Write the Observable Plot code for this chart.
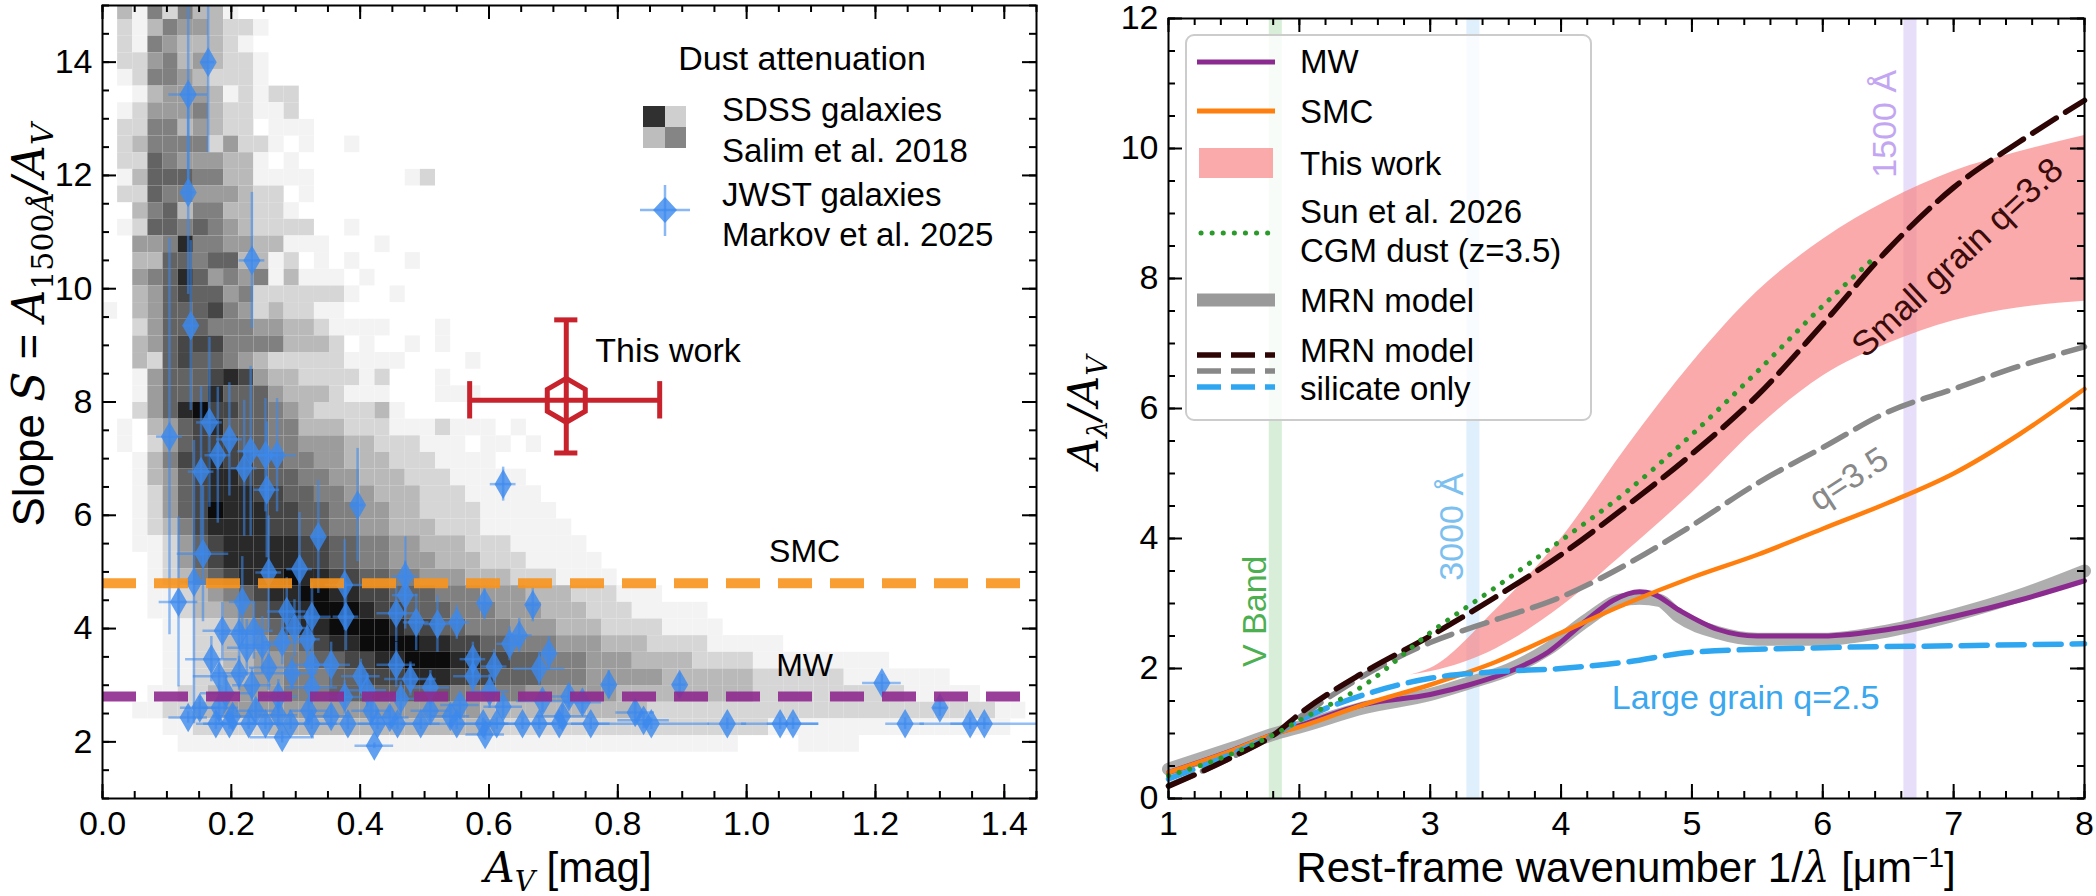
<!DOCTYPE html>
<html><head><meta charset="utf-8">
<script src="https://cdn.jsdelivr.net/npm/d3@7"></script>
<script src="https://cdn.jsdelivr.net/npm/@observablehq/plot@0.6"></script>
<style>
body{margin:0;background:#fff;}
#wrap{position:relative;width:2096px;height:896px;font-family:"Liberation Sans",Arial,sans-serif;}
#left,#right{position:absolute;top:0;}
#left{left:0;} #right{left:1048px;}
#ov{position:absolute;left:0;top:0;pointer-events:none;}
</style></head><body><div id="wrap"><div id="left"></div><div id="right"></div><svg id="ov" width="2096" height="896"></svg></div>
<script>
// ---------- LEFT PANEL DATA ----------
const sdssX0 = 0, sdssDX = 0.0235, sdssYTop = 15.047, sdssDY = 0.294;
const sdssRows = [
"0315253310",
"02135443221",
"0215433321",
"02245343221",
"01255432221",
"0013444312122",
"0124445322112",
"02255343220111",
"02355552422101001",
"0226544433101",
"0136665533111100000012",
"02265544432201",
"0035635533221",
"01266565432222001",
"00445855443311100010",
"0033665663312010100010",
"004568645451311101",
"00346766452222221001",
"1034666754232211",
"00246665554433211110001",
"00346777555533320100101",
"0032676654322222111100001",
"00146667874332222120001",
"0014666866643332111000111",
"00246897766543222231",
"0103467866655333222111211101",
"01024677766554443322211101101",
"00135778776655443332221111",
"0013467887766554433322211111",
"00124678887766554433322211111",
"001246798887766554433222211111",
"0012357888877665544333222111111",
"00112467888887766554433322211111",
"000124678888877665544433322211111",
"0001235678889887766554443332221111",
"0001123456788998877666555444333222111",
"0001123345678899987766655544433322211111",
"00001122345678899998776655544433322221111",
"000011223345567889999887766555444333222211111",
"0000112233445566778899988776655544433332222111111111",
"00001122334455566777888777666555444443333332222221111111",
"0001122334445556666666655555444444333333333222222222211111",
"0011223344444444444444444333333333332222222222222222222222211",
"000011222223333333333333332222222222222222221111111111111111",
"00000111111111111111111111111111111111111100001111"
];
const jwstAv = [0.164,0.133,0.133,0.232,0.137,0.104,0.166,0.197,0.179,0.153,0.22,0.23,0.253,0.271,0.255,0.396,0.622,0.335,0.156,0.142,0.118,0.258,0.306,0.376,0.47,0.47,0.217,0.593,0.668,0.456,0.55,0.52,0.487,0.286,0.325,0.378,0.298,0.186,0.212,0.235,0.248,0.224,0.318,0.279,0.647,0.632,0.693,0.169,0.355,0.325,0.456,0.575,0.608,0.678,0.258,0.181,0.212,0.294,0.401,0.478,0.575,0.786,0.896,1.21,1.30,0.232,0.325,0.509,0.601,0.411,0.192,0.273,0.376,0.463,0.683,0.745,0.724,0.555,0.622,0.151,0.181,0.238,0.32,0.417,0.509,0.827,0.133,0.202,0.273,0.355,0.446,0.54,0.714,0.84,0.176,0.197,0.227,0.253,0.292,0.325,0.381,0.427,0.458,0.494,0.55,0.591,0.612,0.652,0.678,0.709,0.758,0.852,0.97,1.052,1.072,1.246,1.347,1.369,0.279,0.422,0.594];
const jwstS = [14.0,13.43,11.7,10.5,9.35,7.39,7.64,7.34,7.06,6.77,6.83,7.13,7.06,7.06,6.45,6.18,6.55,5.62,5.32,4.82,4.47,4.99,5.05,4.77,4.92,4.59,4.47,4.45,4.42,4.27,4.11,4.08,4.11,4.3,4.21,4.21,4.01,3.96,3.91,3.96,3.71,3.66,3.81,3.76,3.88,3.73,3.56,3.46,3.36,3.36,3.36,3.46,3.33,3.29,3.31,3.16,3.21,3.21,3.16,3.11,3.16,3.01,3.01,3.04,2.6,3.0,2.96,2.96,2.89,2.91,2.86,2.8,2.79,2.76,2.72,2.7,2.8,2.65,2.62,2.6,2.6,2.55,2.55,2.55,2.55,2.52,2.43,2.45,2.47,2.45,2.43,2.45,2.45,2.38,2.32,2.32,2.32,2.32,2.32,2.32,2.32,2.32,2.32,2.32,2.32,2.32,2.32,2.32,2.32,2.32,2.32,2.32,2.32,2.32,2.32,2.32,2.32,2.32,2.08,1.93,2.13];
const jwstAvErr = [0.01,0.03,0.01,0.02,0.01,0.02,0.02,0.02,0.02,0.02,0.02,0.02,0.02,0.03,0.02,0.01,0.02,0.01,0.04,0.02,0.03,0.02,0.02,0.03,0.02,0.02,0.02,0.01,0.01,0.03,0.02,0.02,0.02,0.03,0.03,0.02,0.02,0.03,0.03,0.03,0.03,0.03,0.02,0.03,0.02,0.02,0.01,0.04,0.03,0.03,0.03,0.02,0.02,0.04,0.03,0.04,0.04,0.04,0.03,0.04,0.03,0.01,0.01,0.03,0.01,0.03,0.04,0.03,0.03,0.03,0.04,0.03,0.03,0.03,0.04,0.03,0.03,0.03,0.03,0.03,0.03,0.03,0.03,0.03,0.03,0.03,0.03,0.03,0.03,0.03,0.03,0.03,0.04,0.04,0.03,0.04,0.05,0.03,0.03,0.04,0.05,0.03,0.04,0.03,0.05,0.04,0.03,0.05,0.03,0.04,0.03,0.09,0.03,0.06,0.04,0.03,0.03,0.1,0.05,0.03,0.03];
const jwstSErr = [1.6,1.6,1.8,1.2,1.5,3.5,1.5,1.0,1.2,1.5,1.2,1.5,1.0,1.0,1.2,1.0,0.3,1.0,1.2,2.5,1.5,1.0,1.0,0.8,0.7,0.6,0.8,0.3,0.3,0.5,0.3,0.5,0.5,0.6,0.6,0.6,0.5,0.5,0.5,0.5,0.5,0.5,0.5,0.4,0.3,0.3,0.3,0.4,0.4,0.4,0.4,0.3,0.3,0.3,0.4,0.3,0.3,0.3,0.3,0.3,0.3,0.25,0.2,0.15,0.15,0.3,0.3,0.3,0.3,0.3,0.3,0.3,0.3,0.3,0.2,0.2,0.2,0.2,0.2,0.2,0.2,0.2,0.2,0.2,0.2,0.2,0.1,0.2,0.2,0.2,0.2,0.2,0.2,0.15,0.1,0.1,0.1,0.1,0.1,0.1,0.1,0.1,0.1,0.1,0.1,0.1,0.1,0.1,0.1,0.1,0.1,0.1,0.1,0.1,0.1,0.1,0.1,0.1,0.1,0.05,0.1];
const thisWork = {av:0.72, avLo:0.57, avHi:0.865, s:8.03, sLo:7.1, sHi:9.45};
const smcSlope = 4.8, mwSlope = 2.8;

// ---------- RIGHT PANEL DATA ----------
const mwX = [1,1.5,1.82,2,2.5,3,3.3,3.6,3.9,4.2,4.4,4.6,4.7,4.9,5.2,5.5,6,6.5,7,7.5,8];
const mwY = [0.4,0.75,1.0,1.12,1.45,1.6,1.75,1.95,2.25,2.75,3.05,3.18,3.15,2.9,2.6,2.5,2.5,2.6,2.8,3.05,3.35];
const mrnX = [1,1.5,1.82,2,2.5,3,3.3,3.6,3.9,4.2,4.45,4.6,4.75,4.9,5.2,5.5,6,6.5,7,7.5,8];
const mrnY = [0.45,0.78,1.0,1.1,1.4,1.6,1.78,1.98,2.3,2.75,3.05,3.08,3.05,2.8,2.55,2.45,2.45,2.58,2.82,3.12,3.5];
const smcX = [1,1.5,1.82,2,2.5,3,3.5,4,4.5,5,5.5,6,6.5,7,7.5,8];
const smcY = [0.4,0.75,1.0,1.1,1.45,1.75,2.1,2.55,3.0,3.4,3.75,4.15,4.55,5.0,5.6,6.3];
const bandX = [2.85,3,3.5,4,4.5,5,5.5,6,6.5,7,7.5,8];
const bandLo = [1.9,1.95,2.3,2.95,3.8,4.7,5.7,6.5,7.0,7.35,7.55,7.65];
const bandHi = [1.9,2.0,2.9,4.0,5.4,6.7,7.8,8.6,9.2,9.65,9.95,10.2];
const sunX = [1,1.5,1.82,2,2.5,3,3.5,4,4.5,5,5.5,6,6.4];
const sunY = [0.35,0.7,1.0,1.2,1.75,2.55,3.25,3.97,4.72,5.6,6.57,7.58,8.33];
const smallX = [1,1.5,1.82,2,2.5,3,3.5,4,4.5,5,5.5,6,6.5,7,7.5,8];
const smallY = [0.19,0.65,1.0,1.3,1.95,2.5,3.1,3.75,4.5,5.3,6.2,7.3,8.45,9.4,10.1,10.74];
const midX = [1,1.5,1.82,2,2.5,3,3.5,4,4.5,5,5.5,6,6.5,7,7.5,8];
const midY = [0.2,0.65,1.0,1.25,1.9,2.4,2.75,3.1,3.6,4.2,4.85,5.4,5.95,6.3,6.65,6.95];
const largeX = [1,1.5,1.82,2,2.5,3,3.5,4,4.5,5,6,7,8];
const largeY = [0.3,0.7,1.0,1.2,1.6,1.85,1.95,2.0,2.1,2.25,2.32,2.35,2.38];
const markers = [{x1:1.77,x2:1.87,c:"#2ca02c",o:0.18},{x1:3.28,x2:3.38,c:"#4ea8ee",o:0.18},{x1:6.62,x2:6.72,c:"#a98ae8",o:0.28}];

const F = '"Liberation Sans",Arial,sans-serif';
function series(xs, ys){return xs.map((x,i)=>({x, y:ys[i]}));}
function range(a,b,s){const r=[];for(let v=a;v<=b+1e-9;v+=s) r.push(+v.toFixed(4));return r;}
function frameTicks(xMaj,xMin,yMaj,yMin,H,W){
  const L=14,l=7, m=[];
  for (const [arr,len] of [[xMaj,L],[xMin,l]]) {
    m.push(Plot.tickX(arr,{x:d=>d,insetTop:H-len,stroke:"black",strokeWidth:2}));
    m.push(Plot.tickX(arr,{x:d=>d,insetBottom:H-len,stroke:"black",strokeWidth:2}));
  }
  for (const [arr,len] of [[yMaj,L],[yMin,l]]) {
    m.push(Plot.tickY(arr,{y:d=>d,insetRight:W-len,stroke:"black",strokeWidth:2}));
    m.push(Plot.tickY(arr,{y:d=>d,insetLeft:W-len,stroke:"black",strokeWidth:2}));
  }
  return m;
}

// ---------- LEFT PLOT ----------
const cells=[];
sdssRows.forEach((row,r)=>{ for(let c=0;c<row.length;c++){const v=+row[c]; if(v>0) cells.push({x1:sdssX0+c*sdssDX,x2:sdssX0+(c+1)*sdssDX,y1:sdssYTop-(r+1)*sdssDY,y2:sdssYTop-r*sdssDY,v});}});
const jwst = jwstAv.map((a,i)=>({a,s:jwstS[i],ea:jwstAvErr[i],es:jwstSErr[i]}));
const LW=1048,LH=896,LmL=102,LmR=12,LmT=5,LmB=98;
const tw=[thisWork];
const red="#c8232c";
const left = Plot.plot({
  width:LW,height:LH,marginLeft:LmL,marginRight:LmR,marginTop:LmT,marginBottom:LmB,
  style:{fontFamily:F,fontSize:"34px",color:"black",background:"white"},
  x:{domain:[0,1.45]}, y:{domain:[1,15]},
  color:{type:"linear",domain:[1,9],range:["#f3f3f3","#0c0c0c"]},
  marks:[
    Plot.rect(cells,{x1:"x1",x2:"x2",y1:"y1",y2:"y2",fill:"v",clip:true}),
    Plot.ruleY(jwst,{y:"s",x1:d=>d.a-d.ea,x2:d=>d.a+d.ea,stroke:"#3b88ee",strokeOpacity:0.55,strokeWidth:2.5,clip:true}),
    Plot.ruleX(jwst,{x:"a",y1:d=>d.s-d.es,y2:d=>d.s+d.es,stroke:"#3b88ee",strokeOpacity:0.55,strokeWidth:2.5,clip:true}),
    Plot.dot(jwst,{x:"a",y:"s",symbol:"diamond",r:9,fill:"#3b88ee",fillOpacity:0.8,stroke:"none"}),
    Plot.ruleY([smcSlope],{stroke:"#f7941d",strokeWidth:10,strokeDasharray:"34,18",strokeOpacity:0.9}),
    Plot.ruleY([mwSlope],{stroke:"#8e2a8e",strokeWidth:10,strokeDasharray:"34,18",strokeOpacity:0.9}),
    Plot.text(["SMC"],{x:1.09,y:5.35,text:d=>d,fontSize:32,fill:"black"}),
    Plot.text(["MW"],{x:1.09,y:3.35,text:d=>d,fontSize:32,fill:"black"}),
    Plot.ruleY(tw,{y:"s",x1:"avLo",x2:"avHi",stroke:red,strokeWidth:5}),
    Plot.ruleX(tw,{x:"av",y1:"sLo",y2:"sHi",stroke:red,strokeWidth:5}),
    Plot.ruleX(tw,{x:"avLo",y1:d=>d.s-0.33,y2:d=>d.s+0.33,stroke:red,strokeWidth:5}),
    Plot.ruleX(tw,{x:"avHi",y1:d=>d.s-0.33,y2:d=>d.s+0.33,stroke:red,strokeWidth:5}),
    Plot.ruleY(tw,{y:"sLo",x1:d=>d.av-0.018,x2:d=>d.av+0.018,stroke:red,strokeWidth:5}),
    Plot.ruleY(tw,{y:"sHi",x1:d=>d.av-0.018,x2:d=>d.av+0.018,stroke:red,strokeWidth:5}),
    Plot.dot(tw,{x:"av",y:"s",symbol:"hexagon",r:19,stroke:red,strokeWidth:5,fill:"none"}),
    Plot.text(["This work"],{x:0.765,y:8.9,text:d=>d,textAnchor:"start",fontSize:34,fill:"black"}),
    Plot.frame({stroke:"black",strokeWidth:2}),
    ...frameTicks(range(0,1.4,0.2),range(0,1.45,0.05),range(2,14,2),range(1,15,0.5),LH-LmT-LmB,LW-LmL-LmR),
    Plot.axisX(range(0,1.4,0.2),{tickSize:0,tickPadding:12,tickFormat:d3.format(".1f"),label:null,fontSize:34}),
    Plot.axisY(range(2,14,2),{tickSize:0,tickPadding:10,tickFormat:d3.format("d"),label:null,fontSize:34})
  ]
});
document.getElementById("left").appendChild(left);

// ---------- RIGHT PLOT ----------
const RW=1048,RH=896,RmL=120,RmR=12,RmT=18,RmB=98;
const band = bandX.map((x,i)=>({x,lo:bandLo[i],hi:bandHi[i]}));
const cv="monotone-x";
const right = Plot.plot({
  width:RW,height:RH,marginLeft:RmL,marginRight:RmR,marginTop:RmT,marginBottom:RmB,
  style:{fontFamily:F,fontSize:"34px",color:"black",background:"white"},
  x:{domain:[1,8]}, y:{domain:[0,12]},
  marks:[
    Plot.rect(markers,{x1:"x1",x2:"x2",fill:"c",fillOpacity:"o"}),
    Plot.areaY(band,{x:"x",y1:"lo",y2:"hi",fill:"#f77c7c",fillOpacity:0.65,curve:cv}),
    Plot.line(series(mrnX,mrnY),{x:"x",y:"y",stroke:"#9a9a9a",strokeOpacity:0.8,strokeWidth:13,curve:cv}),
    Plot.line(series(mwX,mwY),{x:"x",y:"y",stroke:"#8b2a8f",strokeWidth:5,curve:cv}),
    Plot.line(series(smcX,smcY),{x:"x",y:"y",stroke:"#ff7f0e",strokeWidth:4.5,curve:cv}),
    Plot.line(series(largeX,largeY),{x:"x",y:"y",stroke:"#2fa6f0",strokeWidth:5.5,strokeDasharray:"26,11",curve:cv}),
    Plot.line(series(midX,midY),{x:"x",y:"y",stroke:"#888",strokeWidth:5.5,strokeDasharray:"26,11",curve:cv}),
    Plot.line(series(smallX,smallY),{x:"x",y:"y",stroke:"#2e0505",strokeWidth:5.5,strokeDasharray:"28,11",curve:cv}),
    Plot.line(series(sunX,sunY),{x:"x",y:"y",stroke:"#2a9a2a",strokeWidth:5,strokeDasharray:"0.1,11",strokeLinecap:"round",curve:cv}),
    Plot.text(["V Band"],{x:1.66,y:2.88,text:d=>d,rotate:-90,fill:"#4caf50",fontSize:34}),
    Plot.text(["3000 Å"],{x:3.17,y:4.18,text:d=>d,rotate:-90,fill:"#7cc0f0",fontSize:34}),
    Plot.text(["1500 Å"],{x:6.48,y:10.38,text:d=>d,rotate:-90,fill:"#c3a6f2",fontSize:34}),
    Plot.text(["Small grain q=3.8"],{x:7.03,y:8.32,text:d=>d,rotate:-43,fill:"#3b0a0a",fontSize:35}),
    Plot.text(["q=3.5"],{x:6.2,y:4.91,text:d=>d,rotate:-33,fill:"#888",fontSize:34}),
    Plot.text(["Large grain q=2.5"],{x:5.41,y:1.54,text:d=>d,fill:"#3aa7ee",fontSize:34}),
    Plot.frame({stroke:"black",strokeWidth:2}),
    ...frameTicks(range(1,8,1),range(1,8,0.2),range(0,12,2),range(0,12,0.5),RH-RmT-RmB,RW-RmL-RmR),
    Plot.axisX(range(1,8,1),{tickSize:0,tickPadding:12,tickFormat:d3.format("d"),label:null,fontSize:34}),
    Plot.axisY(range(0,12,2),{tickSize:0,tickPadding:10,tickFormat:d3.format("d"),label:null,fontSize:34})
  ]
});
document.getElementById("right").appendChild(right);

// ---------- OVERLAY ----------
const ov = d3.select("#ov");
const serif = '"DejaVu Serif","Liberation Serif",serif';
const ly = ov.append("text").attr("transform","translate(44,325) rotate(-90)").attr("text-anchor","middle").attr("font-family",F).attr("font-size",44);
ly.append("tspan").text("Slope ");
ly.append("tspan").attr("font-family",serif).attr("font-style","italic").text("S");
ly.append("tspan").text(" = ");
ly.append("tspan").attr("font-family",serif).attr("font-style","italic").text("A");
ly.append("tspan").attr("font-family",serif).attr("font-size",30).attr("dy",9).text("1500");
ly.append("tspan").attr("font-family",serif).attr("font-style","italic").attr("font-size",30).text("Å");
ly.append("tspan").attr("font-family",serif).attr("font-style","italic").attr("dy",-9).text("/A");
ly.append("tspan").attr("font-family",serif).attr("font-style","italic").attr("font-size",30).attr("dy",9).text("V");
const lx = ov.append("text").attr("x",568).attr("y",882).attr("text-anchor","middle").attr("font-family",F).attr("font-size",42);
lx.append("tspan").attr("font-family",serif).attr("font-style","italic").text("A");
lx.append("tspan").attr("font-family",serif).attr("font-style","italic").attr("font-size",28).attr("dy",9).text("V");
lx.append("tspan").attr("dy",-9).text(" [mag]");
const ry = ov.append("text").attr("transform","translate(1098,412) rotate(-90)").attr("text-anchor","middle").attr("font-family",serif).attr("font-style","italic").attr("font-size",42);
ry.append("tspan").text("A");
ry.append("tspan").attr("font-size",28).attr("dy",9).text("λ");
ry.append("tspan").attr("dy",-9).text("/A");
ry.append("tspan").attr("font-size",28).attr("dy",9).text("V");
const rx = ov.append("text").attr("x",1626).attr("y",882).attr("text-anchor","middle").attr("font-family",F).attr("font-size",42);
rx.append("tspan").text("Rest-frame wavenumber 1/");
rx.append("tspan").attr("font-family",serif).attr("font-style","italic").text("λ");
rx.append("tspan").text(" [μm");
rx.append("tspan").attr("font-size",28).attr("dy",-15).text("−1");
rx.append("tspan").attr("dy",15).text("]");

const t = (x,y,s,o={})=>ov.append("text").attr("x",x).attr("y",y).attr("font-family",F).attr("font-size",o.fs||33).attr("fill",o.fill||"black").attr("text-anchor",o.anchor||"start").text(s);
t(802,70,"Dust attenuation",{anchor:"middle",fs:34});
ov.append("rect").attr("x",643).attr("y",106).attr("width",22).attr("height",21).attr("fill","#303030");
ov.append("rect").attr("x",665).attr("y",106).attr("width",21).attr("height",21).attr("fill","#cfcfcf");
ov.append("rect").attr("x",643).attr("y",127).attr("width",22).attr("height",21).attr("fill","#bdbdbd");
ov.append("rect").attr("x",665).attr("y",127).attr("width",21).attr("height",21).attr("fill","#858585");
t(722,121,"SDSS galaxies"); t(722,162,"Salim et al. 2018");
ov.append("line").attr("x1",640).attr("x2",690).attr("y1",210).attr("y2",210).attr("stroke","#3b88ee").attr("stroke-opacity",0.6).attr("stroke-width",2.5);
ov.append("line").attr("x1",665).attr("x2",665).attr("y1",185).attr("y2",236).attr("stroke","#3b88ee").attr("stroke-opacity",0.6).attr("stroke-width",2.5);
ov.append("path").attr("d","M665,197 L677,210 L665,223 L653,210Z").attr("fill","#3b88ee").attr("fill-opacity",0.8);
t(722,206,"JWST galaxies"); t(722,246,"Markov et al. 2025");

ov.append("rect").attr("x",1186).attr("y",35).attr("width",405).attr("height",385).attr("rx",8).attr("fill","white").attr("fill-opacity",0.8).attr("stroke","#cccccc").attr("stroke-width",2);
const hl=(y,c,w,dash)=>ov.append("line").attr("x1",1197).attr("x2",1275).attr("y1",y).attr("y2",y).attr("stroke",c).attr("stroke-width",w).attr("stroke-dasharray",dash||null);
hl(62,"#8b2a8f",5); t(1300,73,"MW");
hl(111,"#ff7f0e",5); t(1300,123,"SMC");
ov.append("rect").attr("x",1199).attr("y",148).attr("width",74).attr("height",30).attr("fill","#f77c7c").attr("fill-opacity",0.65);
t(1300,175,"This work");
ov.append("line").attr("x1",1201).attr("x2",1275).attr("y1",233).attr("y2",233).attr("stroke","#2a9a2a").attr("stroke-width",5).attr("stroke-dasharray","0.1,11").attr("stroke-linecap","round");
t(1300,223,"Sun et al. 2026"); t(1300,262,"CGM dust (z=3.5)");
hl(300,"#9a9a9a",13); t(1300,312,"MRN model");
hl(355,"#2e0505",5.5,"24,10"); hl(371,"#888",5.5,"24,10"); hl(387,"#2fa6f0",5.5,"24,10");
t(1300,362,"MRN model"); t(1300,400,"silicate only");
</script></body></html>
